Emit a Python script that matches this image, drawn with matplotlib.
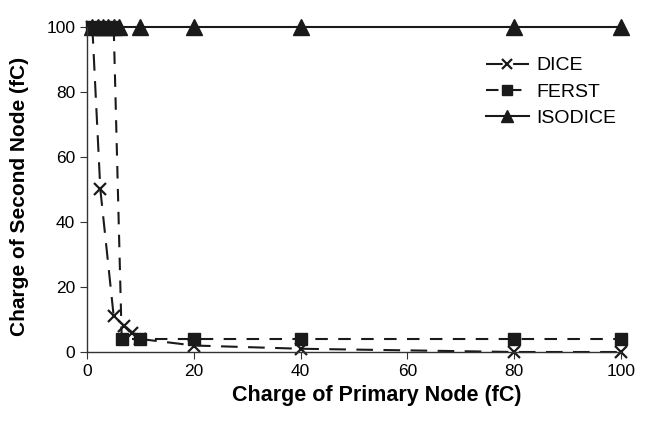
import matplotlib
matplotlib.use("Agg")
import matplotlib.pyplot as plt

plt.rcParams['font.family'] = ['Liberation Sans', 'DejaVu Sans']

dice_x = [1, 2.5, 5, 7, 8.5, 10, 20, 40, 80, 100]
dice_y = [100, 50, 11, 8, 6, 4, 2, 1, 0, 0]
ferst_x = [1, 3, 5, 6.5, 10, 20, 40, 80, 100]
ferst_y = [100, 100, 100, 4, 4, 4, 4, 4, 4]
iso_x = [1, 2, 3, 4, 5, 6, 10, 20, 40, 80, 100]
iso_y = [100, 100, 100, 100, 100, 100, 100, 100, 100, 100, 100]

fig = plt.figure(figsize=(6.56, 4.44), dpi=100)
ax = fig.add_axes([87/656, 1-352/444, (621-87)/656, (352-27)/444])

c = '#1a1a1a'
ax.plot(dice_x, dice_y, color=c, lw=1.5, dashes=(8, 5), marker='x', ms=9, mew=1.6, label='DICE', clip_on=False)
ax.plot(ferst_x, ferst_y, color=c, lw=1.5, dashes=(6, 5), marker='s', ms=8, label='FERST', clip_on=False)
ax.plot(iso_x, iso_y, color=c, lw=1.5, marker='^', ms=11, label='ISODICE', clip_on=False)

ax.set_xlim(0, 100)
ax.set_ylim(0, 100)
ax.set_xticks([0, 20, 40, 60, 80, 100])
ax.set_yticks([0, 20, 40, 60, 80, 100])
ax.spines['top'].set_visible(False)
ax.spines['right'].set_visible(False)
for s in ['left', 'bottom']:
    ax.spines[s].set_color('#333333')
    ax.spines[s].set_linewidth(1.0)
ax.tick_params(direction='out', length=5, labelsize=12.5, colors='#333333', labelcolor='black')
ax.set_xlabel('Charge of Primary Node (fC)', fontsize=15.5, fontweight='bold')
ax.set_ylabel('Charge of Second Node (fC)', fontsize=15, fontweight='bold')
ax.xaxis.set_label_coords(0.542, -0.1)
ax.yaxis.set_label_coords(-0.108, 0.48)

leg = ax.legend(loc='upper right', bbox_to_anchor=(1.024, 0.962), frameon=False, fontsize=14,
                handlelength=2.2, labelspacing=0.45, handletextpad=0.4, markerscale=0.85)

fig.savefig('out.png', dpi=100)
